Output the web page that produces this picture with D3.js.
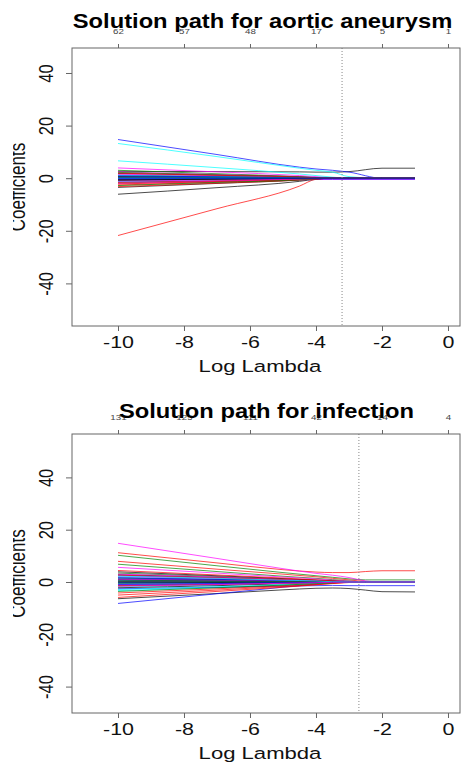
<!DOCTYPE html>
<html>
<head>
<meta charset="utf-8">
<script src="https://cdn.jsdelivr.net/npm/d3@7"></script>
<style>
  body { margin: 0; background: #fff; }
  svg text { font-family: "Liberation Sans", Arial, sans-serif; }
</style>
</head>
<body>
<svg id="chart" width="462" height="762"></svg>
<script>
// ---- data ----
var xTicks = [-10, -8, -6, -4, -2, 0];
var yTicks = [-40, -20, 0, 20, 40];
var palette = ['black', 'red', 'green', 'blue', 'cyan', 'magenta'];

var titleA = 'Solution path for aortic aneurysm';
var dfLabelsA = ['62', '57', '48', '17', '5', '1'];
var cutA = -3.21;
var knotsA = [-10, -7, -4.5, -4, -3.5, -3, -2, -1];
var pathsA = [
    [2.6, 2.5, 2.4, 2.3, 2.3, 2.5, 3.8, 3.8],
    [-21.8, -11.6, -3.0, -0.4, 0, 0, 0, 0],
    [3.0, 1.7, 0.6, 0.3, 0.1, 0, 0, 0],
    [14.7, 9.0, 4.2, 3.5, 3.0, 2.3, 0, 0],
    [13.2, 8.2, 3.8, 3.0, 2.3, 0.6, 0, 0],
    [3.9, 2.4, 1.0, 0.6, 0.2, 0, 0, 0],
    [-6.1, -3.6, -1.2, -0.4, 0, 0, 0, 0],
    [-2.6, -1.5, -0.5, -0.2, 0, 0, 0, 0],
    [1.2, 0.7, 0.3, 0.1, 0, 0, 0, 0],
    [-1.4, -1.0, -0.6, -0.5, -0.5, -0.5, -0.5, -0.5],
    [6.6, 4.0, 1.6, 1.0, 0.4, 0, 0, 0],
    [-0.8, -0.6, -0.4, -0.4, -0.3, -0.3, -0.3, -0.3],
    [-3.5, -2.0, -0.7, -0.3, 0, 0, 0, 0],
    [-3.2, -1.9, -0.7, -0.3, 0, 0, 0, 0],
    [-1.8, -1.1, -0.4, -0.2, 0, 0, 0, 0],
    [-0.6, -0.4, -0.1, 0, 0, 0, 0, 0],
    [0.8, 0.5, 0.2, 0.1, 0, 0, 0, 0],
    [2.4, 1.4, 0.5, 0.2, 0, 0, 0, 0],
    [1.8, 1.1, 0.4, 0.2, 0, 0, 0, 0],
    [0.5, 0.3, 0.1, 0, 0, 0, 0, 0],
    [-0.9, -0.5, -0.2, -0.1, 0, 0, 0, 0],
    [0.3, 0.2, 0.1, 0, 0, 0, 0, 0],
    [-1.3, -0.8, -0.3, -0.1, 0, 0, 0, 0],
    [1.5, 0.9, 0.3, 0.1, 0, 0, 0, 0],
    [-0.4, -0.2, -0.1, 0, 0, 0, 0, 0],
    [-1.6, -1.0, -0.4, -0.2, 0, 0, 0, 0],
    [2.2, 1.3, 0.5, 0.2, 0, 0, 0, 0],
    [-0.2, -0.1, 0, 0, 0, 0, 0, 0],
    [1.0, 0.6, 0.2, 0.1, 0, 0, 0, 0],
    [-2.0, -1.2, -0.4, -0.2, 0, 0, 0, 0],
    [0.6, 0.4, 0.1, 0, 0, 0, 0, 0],
    [-2.2, -1.3, -0.5, -0.2, 0, 0, 0, 0],
    [-2.8, -1.6, -0.6, -0.2, 0, 0, 0, 0],
    [0.9, 0.5, 0.2, 0.1, 0, 0, 0, 0],
    [0.1, 0.1, 0, 0, 0, 0, 0, 0],
    [-1.1, -0.7, -0.3, -0.1, 0, 0, 0, 0],
    [-0.7, -0.4, -0.1, 0, 0, 0, 0, 0],
    [1.9, 1.1, 0.4, 0.1, 0, 0, 0, 0],
    [0.2, 0.1, 0, 0, 0, 0, 0, 0],
    [0, 0, 0, 0, 0, 0, 0, 0]
];

var titleB = 'Solution path for infection';
var dfLabelsB = ['131', '125', '111', '42', '14', '4'];
var cutB = -2.7;
var knotsB = [-10, -7, -5, -4, -3.5, -3, -2.5, -2, -1];
var pathsB = [
    [-6.4, -4.4, -3.0, -2.4, -2.3, -2.5, -3.1, -3.7, -3.8],
    [11.2, 7.3, 4.7, 3.8, 3.6, 3.6, 4.0, 4.3, 4.3],
    [10.2, 6.2, 3.6, 2.4, 1.8, 1.2, 0.8, 0.8, 0.8],
    [-8.2, -4.5, -2.0, -0.8, -0.3, 0, 0, 0, 0],
    [-3.3, -2.1, -1.2, -0.7, -0.4, -0.1, 0, 0, 0],
    [14.8, 9.0, 5.1, 3.3, 2.6, 1.7, 0.4, 0, 0],
    [2.8, 1.8, 1.0, 0.6, 0.3, 0.1, 0, 0, 0],
    [7.9, 4.9, 3.0, 2.0, 1.4, 0.8, 0.2, 0, 0],
    [6.8, 4.0, 2.2, 1.4, 0.9, 0.4, 0, 0, 0],
    [-2.6, -2.0, -1.6, -1.4, -1.3, -1.4, -1.4, -1.4, -1.4],
    [1.8, 1.1, 0.6, 0.3, 0.1, 0, 0, 0, 0],
    [5.6, 3.4, 1.9, 1.2, 0.7, 0.3, 0, 0, 0],
    [-1.2, -0.8, -0.4, -0.2, 0, 0, 0, 0, 0],
    [-5.0, -3.1, -1.7, -1.0, -0.5, -0.1, 0, 0, 0],
    [3.4, 2.1, 1.1, 0.6, 0.3, 0, 0, 0, 0],
    [1.2, 0.8, 0.4, 0.2, 0, 0, 0, 0, 0],
    [-1.9, -1.2, -0.6, -0.3, -0.1, 0, 0, 0, 0],
    [0.6, 0.4, 0.2, 0.1, 0, 0, 0, 0, 0],
    [3.9, 2.4, 1.3, 0.7, 0.4, 0.1, 0, 0, 0],
    [-5.9, -3.6, -2.0, -1.1, -0.6, -0.2, 0, 0, 0],
    [-0.6, -0.4, -0.2, -0.1, 0, 0, 0, 0, 0],
    [2.4, 1.5, 0.8, 0.4, 0.2, 0, 0, 0, 0],
    [0.4, 0.3, 0.1, 0, 0, 0, 0, 0, 0],
    [2.0, 1.3, 0.7, 0.4, 0.2, 0, 0, 0, 0],
    [-2.2, -1.4, -0.7, -0.4, -0.2, 0, 0, 0, 0],
    [-4.2, -2.6, -1.4, -0.8, -0.4, -0.1, 0, 0, 0],
    [1.5, 0.9, 0.5, 0.2, 0.1, 0, 0, 0, 0],
    [-0.2, -0.1, 0, 0, 0, 0, 0, 0, 0],
    [-2.9, -1.8, -1.0, -0.5, -0.2, 0, 0, 0, 0],
    [3.0, 1.9, 1.0, 0.5, 0.2, 0, 0, 0, 0],
    [0.9, 0.6, 0.3, 0.1, 0, 0, 0, 0, 0],
    [4.4, 2.7, 1.5, 0.8, 0.4, 0.1, 0, 0, 0],
    [-1.5, -0.9, -0.5, -0.2, 0, 0, 0, 0, 0],
    [0.8, 0.5, 0.3, 0.1, 0, 0, 0, 0, 0],
    [-1.1, -0.7, -0.4, -0.2, 0, 0, 0, 0, 0],
    [-0.9, -0.6, -0.3, -0.1, 0, 0, 0, 0, 0],
    [0.2, 0.1, 0, 0, 0, 0, 0, 0, 0],
    [2.6, 1.6, 0.9, 0.5, 0.2, 0, 0, 0, 0],
    [-3.6, -2.2, -1.2, -0.6, -0.3, 0, 0, 0, 0],
    [1.6, 1.0, 0.5, 0.3, 0.1, 0, 0, 0, 0],
    [-0.4, -0.3, -0.1, 0, 0, 0, 0, 0, 0],
    [1.0, 0.6, 0.3, 0.2, 0, 0, 0, 0, 0],
    [-0.3, -0.2, -0.1, 0, 0, 0, 0, 0, 0],
    [-1.4, -0.9, -0.5, -0.2, 0, 0, 0, 0, 0],
    [0.7, 0.4, 0.2, 0.1, 0, 0, 0, 0, 0],
    [-0.9, -0.6, -0.3, -0.1, 0, 0, 0, 0, 0],
    [2.2, 1.4, 0.7, 0.4, 0.1, 0, 0, 0, 0],
    [-1.6, -1.0, -0.5, -0.3, -0.1, 0, 0, 0, 0]
];

// ---- drawing ----
var svg = d3.select('#chart');

svg.append('defs').append('clipPath')
    .attr('id', 'ylab-clip')
    .append('rect')
    .attr('x', 13).attr('y', 0)
    .attr('width', 60).attr('height', 762);

function drawPanel(opts) {
    var left = 72, right = 460;
    var x = d3.scaleLinear().domain([-11.394, 0.364]).range([left, right]);
    var y = d3.scaleLinear().domain(opts.yDomain).range([opts.bottom, opts.top]);
    var g = svg.append('g');

    var line = d3.line()
        .x(function (d) { return x(d[0]); })
        .y(function (d) { return y(d[1]); })
        .curve(d3.curveMonotoneX);

    g.append('g').selectAll('path')
        .data(opts.paths)
        .enter().append('path')
        .attr('fill', 'none')
        .attr('stroke', function (d, i) { return palette[i % palette.length]; })
        .attr('stroke-width', 1)
        .attr('stroke-opacity', 0.7)
        .attr('d', function (d) {
            return line(opts.knots.map(function (k, j) { return [k, d[j]]; }));
        });

    // selected lambda
    g.append('line')
        .attr('x1', x(opts.cut)).attr('x2', x(opts.cut))
        .attr('y1', opts.top).attr('y2', opts.bottom)
        .attr('stroke', '#888')
        .attr('stroke-dasharray', '1,2');

    g.append('rect')
        .attr('x', left).attr('y', opts.top)
        .attr('width', right - left).attr('height', opts.bottom - opts.top)
        .attr('fill', 'none')
        .attr('stroke', '#666');

    // bottom axis
    var xb = g.append('g')
        .attr('transform', 'translate(0,' + opts.bottom + ')')
        .call(d3.axisBottom(x).tickValues(xTicks).tickSize(5)
            .tickFormat(function (d) { return String(d); }));
    xb.select('.domain').remove();
    xb.selectAll('line').attr('stroke', '#666');
    xb.selectAll('text')
        .attr('y', 22).attr('dy', null)
        .attr('font-size', 16.5)
        .attr('fill', '#111')
        .attr('transform', 'scale(1.3,1)');

    // top axis with degrees of freedom
    var xt = g.append('g')
        .attr('transform', 'translate(0,' + opts.top + ')')
        .call(d3.axisTop(x).tickValues(xTicks).tickSize(4)
            .tickFormat(function (d, i) { return opts.dfLabels[i]; }));
    xt.select('.domain').remove();
    xt.selectAll('line').attr('stroke', '#666');
    xt.selectAll('text')
        .attr('y', -14).attr('dy', null)
        .attr('font-size', 7.5)
        .attr('fill', '#444')
        .attr('transform', 'scale(1.3,1)');

    // left axis, labels parallel to the axis
    var ya = g.append('g')
        .attr('transform', 'translate(' + left + ',0)')
        .call(d3.axisLeft(y).tickValues(yTicks).tickSize(6)
            .tickFormat(function (d) { return String(d); }));
    ya.select('.domain').remove();
    ya.selectAll('line').attr('stroke', '#666');
    ya.selectAll('text')
        .attr('x', 0).attr('y', 0).attr('dy', null)
        .attr('text-anchor', 'middle')
        .attr('font-size', 16.5)
        .attr('fill', '#111')
        .attr('transform', 'translate(-19,0) rotate(-90) scale(1,1.25)');

    g.append('g')
        .attr('clip-path', 'url(#ylab-clip)')
        .append('text')
        .attr('text-anchor', 'middle')
        .attr('font-size', 17)
        .attr('fill', '#111')
        .attr('transform', 'translate(25,' + (opts.top + opts.bottom) / 2 + ') rotate(-90) scale(1,1.3)')
        .text('Coefficients');

    g.append('text')
        .attr('text-anchor', 'middle')
        .attr('font-size', 17)
        .attr('fill', '#111')
        .attr('transform', 'translate(' + (left + 448) / 2 + ',' + (opts.bottom + 46) + ') scale(1.3,1)')
        .text('Log Lambda');

    g.append('text')
        .attr('text-anchor', 'middle')
        .attr('font-size', 21)
        .attr('font-weight', 'bold')
        .attr('fill', '#000')
        .attr('transform', 'translate(' + opts.titleX + ',' + opts.titleY + ') scale(1.13,1)')
        .text(opts.title);
}

drawPanel({
    title: titleA, titleX: 262.5, titleY: 28,
    top: 48, bottom: 326, yDomain: [-56.2, 49.5],
    knots: knotsA, paths: pathsA, dfLabels: dfLabelsA, cut: cutA
});

drawPanel({
    title: titleB, titleX: 266.5, titleY: 418,
    top: 434, bottom: 713, yDomain: [-50.1, 56.6],
    knots: knotsB, paths: pathsB, dfLabels: dfLabelsB, cut: cutB
});
</script>
</body>
</html>
